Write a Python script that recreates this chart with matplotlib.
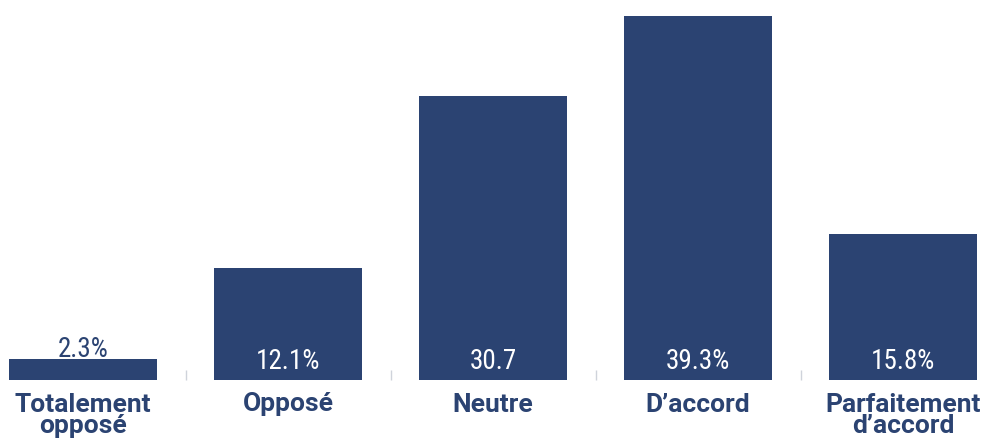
import matplotlib
matplotlib.use("Agg")
import matplotlib.pyplot as plt
from matplotlib import font_manager

categories = ["Totalement\nopposé", "Opposé", "Neutre", "D\u2019accord", "Parfaitement\nd\u2019accord"]
values = [2.3, 12.1, 30.7, 39.3, 15.8]
value_labels = ["2.3%", "12.1%", "30.7", "39.3%", "15.8%"]

navy = "#2b4372"

names = {f.name for f in font_manager.fontManager.ttflist}
narrow = [n for n in ["Roboto Condensed", "Liberation Sans Narrow", "Roboto"] if n in names]

fig = plt.figure(figsize=(9.83, 4.38), dpi=100)
ax = fig.add_axes([0, 1 - 380 / 438, 1, 380 / 438])

x = list(range(len(categories)))
ax.bar(x, values, width=0.722, color=navy)

ax.set_xlim(-0.405, 4.39)
ax.set_ylim(0, 380 / (364 / 39.3))

# short bars get their label above, the rest inside near the base
for xi, v, lab in zip(x, values, value_labels):
    if v < 5:
        ax.text(xi, v + 0.22, lab, ha="center", va="baseline", color=navy,
                fontsize=19.5, family=narrow)
    else:
        ax.text(xi, 1.2, lab, ha="center", va="baseline", color="white",
                fontsize=19.5, family=narrow)

ax.set_xticks(x)
ax.set_xticklabels(categories, fontsize=19, fontweight="bold", color=navy,
                   family=["Roboto", "DejaVu Sans"], linespacing=0.88)
ax.set_xticks([0.5, 1.5, 2.5, 3.5], minor=True)
ax.tick_params(axis="x", which="major", length=0, pad=9)
ax.tick_params(axis="x", which="minor", length=7, direction="in", color="#cfd3db", width=1)
ax.set_yticks([])
for s in ax.spines.values():
    s.set_visible(False)

fig.savefig("out.png", dpi=100)
